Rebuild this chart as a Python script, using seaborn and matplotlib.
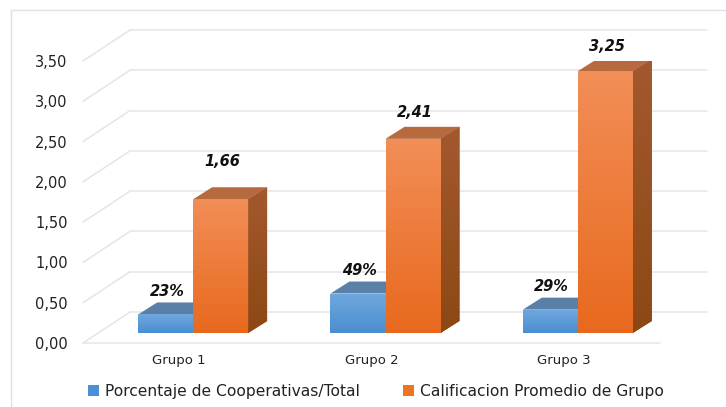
import numpy as np
import pandas as pd
import matplotlib
matplotlib.use("Agg")
import matplotlib.pyplot as plt
import seaborn as sns
from matplotlib.patches import Polygon, Patch
from matplotlib.lines import Line2D
from matplotlib.colors import LinearSegmentedColormap

# datos
grupos = ["Grupo 1", "Grupo 2", "Grupo 3"]
series = ["Porcentaje de Cooperativas/Total", "Calificacion Promedio de Grupo"]
porcentaje = [0.23, 0.49, 0.29]
calificacion = [1.66, 2.41, 3.25]
etq_pct = ["23%", "49%", "29%"]
etq_cal = ["1,66", "2,41", "3,25"]
yticks = [0.0, 0.5, 1.0, 1.5, 2.0, 2.5, 3.0, 3.5]

df = pd.DataFrame({
    "grupo": grupos * 2,
    "serie": [series[0]] * 3 + [series[1]] * 3,
    "valor": porcentaje + calificacion,
})

sns.set_theme(style="white")
plt.rcParams["font.family"] = ["DejaVu Sans"]

W, H = 726, 407
fig = plt.figure(figsize=(W / 100, H / 100), dpi=100)
# front plane of the 3d box
ax = fig.add_axes([83 / W, 64 / H, 577 / W, 282 / H])

sns.barplot(data=df, x="grupo", y="valor", hue="serie",
            palette=["#5B9BD5", "#ED7D31"], width=0.572, gap=0,
            legend=False, ax=ax, zorder=3, linewidth=0)

ax.set_xlim(-0.5, 2.5)
ax.set_ylim(0, 3.5)

pxx = 577 / 3.0     # px per category
pxy = 282 / 3.5     # px per unit


def dx(p):
    return p / pxx


def dy(p):
    return p / pxy


grid_c = "#E3E5EC"
# back wall + left wall lines
bx, by = dx(47), dy(31)
for t in yticks:
    ax.plot([-0.5 + bx, 2.5 + bx], [t + by, t + by], color=grid_c, lw=1.1,
            clip_on=False, zorder=0)
    ax.plot([-0.5, -0.5 + bx], [t, t + by], color=grid_c, lw=1.1,
            clip_on=False, zorder=0)
ax.plot([-0.5, 2.5], [0, 0], color=grid_c, lw=1.1, clip_on=False, zorder=0)


def grad_fill(patch, c_top, c_bot, z):
    cmap = LinearSegmentedColormap.from_list("g", [c_top, c_bot])
    if isinstance(patch, Polygon):
        verts = patch.get_xy()
        x0, x1 = verts[:, 0].min(), verts[:, 0].max()
        y0, y1 = verts[:, 1].min(), verts[:, 1].max()
    else:
        x0, y0 = patch.get_x(), patch.get_y()
        x1, y1 = x0 + patch.get_width(), y0 + patch.get_height()
    g = np.linspace(0, 1, 128).reshape(-1, 1)
    im = ax.imshow(g, cmap=cmap, extent=(x0, x1, y0, y1), aspect="auto",
                   zorder=z, interpolation="bilinear")
    im.set_clip_path(patch)


# bars sit in the middle of the depth
ox, oy = dx(14), dy(10)
ddx, ddy = dx(19), dy(12)
colores = [
    dict(front=("#70A8DF", "#4A8ED0"), top="#5A80A8", side=("#4F7AA6", "#3E6A96")),
    dict(front=("#F28E57", "#E8691E"), top="#B86A3F", side=("#A3592E", "#8C4814")),
]
bars = list(ax.patches)
for i, p in enumerate(bars):
    s = 0 if i < 3 else 1
    z = 3 + s
    p.set_x(p.get_x() + ox)
    p.set_y(p.get_y() + oy)
    p.set_zorder(z)
    x0, y0 = p.get_x(), p.get_y()
    x1, y1 = x0 + p.get_width(), y0 + p.get_height()
    top = Polygon([(x0, y1), (x1, y1), (x1 + ddx, y1 + ddy), (x0 + ddx, y1 + ddy)],
                  closed=True, facecolor=colores[s]["top"], lw=0, zorder=z)
    side = Polygon([(x1, y0), (x1, y1), (x1 + ddx, y1 + ddy), (x1 + ddx, y0 + ddy)],
                   closed=True, facecolor=colores[s]["side"][0], lw=0, zorder=z)
    ax.add_patch(top)
    ax.add_patch(side)
    grad_fill(p, *colores[s]["front"], z)
    grad_fill(side, *colores[s]["side"], z)

ax.set_xlim(-0.5, 2.5)
ax.set_ylim(0, 3.5)

# etiquetas de datos
off_pct = [23, 23, 23]
off_cal = [38, 26, 25]
for i in range(3):
    for vals, etq, offs, k in [(porcentaje, etq_pct, off_pct, 0),
                               (calificacion, etq_cal, off_cal, 1)]:
        p = bars[k * 3 + i]
        xc = p.get_x() + p.get_width() / 2
        ax.annotate(etq[i], (xc, vals[i] + oy), xytext=(1, offs[i] * 0.72),
                    textcoords="offset points", ha="center", va="center",
                    fontsize=10.5, fontweight="bold", fontstyle="italic",
                    color="#111111", annotation_clip=False, zorder=10)

ax.set_yticks(yticks)
ax.set_yticklabels([f"{t:.2f}".replace(".", ",") for t in yticks])
ax.tick_params(axis="y", length=0, pad=11, labelsize=10.5, labelcolor="#222222")
ax.tick_params(axis="x", length=0, pad=8, labelsize=9.5, labelcolor="#222222")
ax.set_xlabel("")
ax.set_ylabel("")
for sp in ax.spines.values():
    sp.set_visible(False)
ax.patch.set_alpha(0)

handles = [Patch(facecolor="#4A90D9", edgecolor="none"),
           Patch(facecolor="#EE7421", edgecolor="none")]
fig.legend(handles, series, loc="center", bbox_to_anchor=(0.518, 0.039),
           ncol=2, frameon=False, fontsize=11.2, handlelength=0.7,
           handleheight=0.7, handletextpad=0.4, columnspacing=2.8,
           labelcolor="#222222")

# borde exterior
fig.add_artist(Line2D([11 / W, 1], [1 - 10 / H, 1 - 10 / H], color="#E0E0E6",
                      lw=1, transform=fig.transFigure))
fig.add_artist(Line2D([11 / W, 11 / W], [0, 1 - 10 / H], color="#E0E0E6",
                      lw=1, transform=fig.transFigure))

fig.savefig("out.png", dpi=100)
